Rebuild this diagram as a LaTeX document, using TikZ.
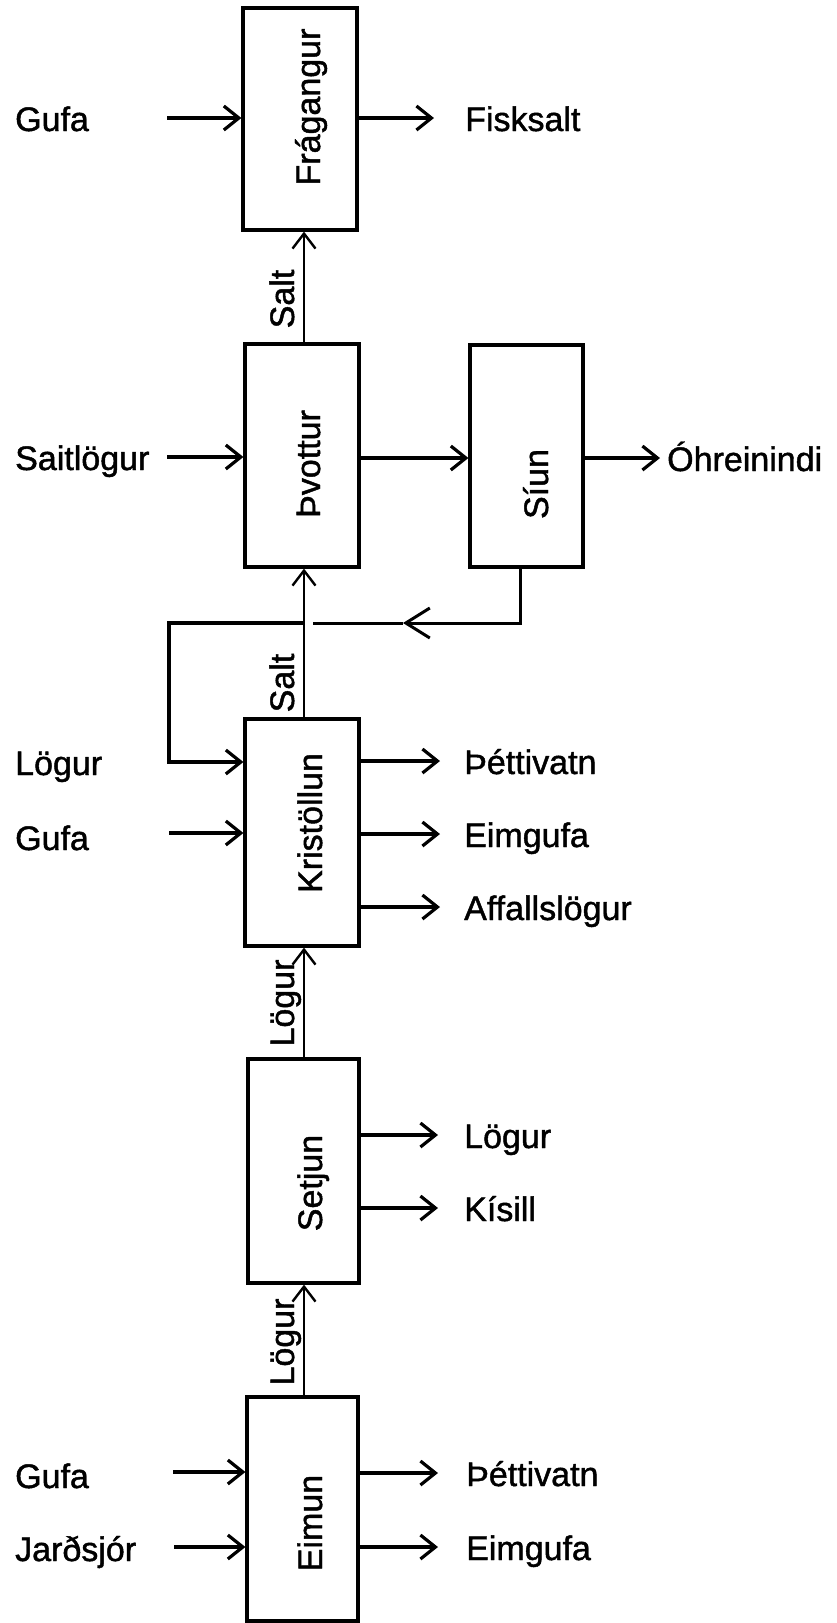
\documentclass[tikz,border=0pt]{standalone}
\usepackage{fontspec}
\setmainfont{Liberation Sans}[FakeBold=1.3]
\usetikzlibrary{arrows.meta}
\begin{document}
\begin{tikzpicture}[x=1pt,y=-1pt,
  proc/.style={draw, line width=3.2pt, inner sep=0pt},
  txt/.style={font=\fontsize{34}{37}\selectfont, inner sep=0pt},
  lbl/.style={txt, anchor=base west},
  vlbl/.style={txt, anchor=base, rotate=90},
  flow/.style={line width=3.2pt, -{Straight Barb[length=15pt,width=24pt]}},
  up/.style={line width=2.4pt, -{Straight Barb[length=15pt,width=23pt]}},
  back/.style={line width=3pt},
]
\fill[white] (0,0) rectangle (836,1623);
\useasboundingbox (0,0) rectangle (836,1623);

% process boxes
\node[proc, minimum width=114pt, minimum height=222pt] (fra) at (300,119) {};
\node[proc, minimum width=114pt, minimum height=223pt] (thv) at (302,455.5) {};
\node[proc, minimum width=113pt, minimum height=222pt] (siun) at (526.5,456) {};
\node[proc, minimum width=114pt, minimum height=227pt] (kri) at (302,832.5) {};
\node[proc, minimum width=111pt, minimum height=224pt] (set) at (303.5,1171) {};
\node[proc, minimum width=111pt, minimum height=224pt] (eim) at (302.5,1509) {};

% box labels
\node[vlbl] (fraL) at (320,107) {Frágangur};
\node[vlbl] (thvL) at (320,464) {Þvottur};
\node[vlbl] (siunL) at (548,484) {Síun};
\node[vlbl] (kriL) at (322,823) {Kristöllun};
\node[vlbl] (setL) at (322,1183) {Setjun};
\node[vlbl] (eimL) at (322,1523) {Eimun};

% spine of vertical flows
\coordinate (spine) at (304,0);
\draw[up] (thv.north -| spine) -- (fra.south -| spine);
\draw[up] (kri.north -| spine) -- (thv.south -| spine);
\draw[up] (set.north -| spine) -- (kri.south -| spine);
\draw[up] (eim.north -| spine) -- (set.south -| spine);
\node[vlbl] (salt1) at (294,299) {Salt};
\node[vlbl] (salt2) at (294,683) {Salt};
\node[vlbl] (log1) at (294,1003) {Lögur};
\node[vlbl] (log2) at (294,1342) {Lögur};

% Fragangur
\node[lbl] (gufa1) at (15,131) {Gufa};
\coordinate (gufa1s) at (167,118);
\draw[flow] (gufa1s) -- (fra.west |- gufa1s);
\node[lbl] (fisk) at (465,131) {Fisksalt};
\coordinate (fiske) at (434,118);
\draw[flow] (fra.east |- fiske) -- (fiske);

% Thvottur / Siun
\node[lbl] (salog) at (15,470) {Saitlögur};
\coordinate (salogs) at (167,457);
\draw[flow] (salogs) -- (thv.west |- salogs);
\coordinate (tsy) at (0,458);
\draw[flow] (thv.east |- tsy) -- (siun.west |- tsy);
\node[lbl] (ohr) at (667,471) {Óhreinindi};
\coordinate (ohre) at (660,458);
\draw[flow] (siun.east |- ohre) -- (ohre);

% feedback loop
\coordinate (fbx) at (520,0);
\coordinate (fbtip) at (403,623);
\coordinate (fbgap) at (313,623);
\coordinate (fbl) at (169,623);
\coordinate (kin1) at (169,762);
\draw[back, -{Straight Barb[length=24pt,width=30pt]}] (siun.south -| fbx) |- (fbtip);
\draw[back] (fbtip) -- (fbgap);
\draw[flow] (spine |- fbl) -- (fbl) -- (kin1) -- (kri.west |- kin1);

% Kristollun
\node[lbl] (login) at (15,775) {Lögur};
\node[lbl] (gufa2) at (15,850) {Gufa};
\coordinate (gufa2s) at (169,833);
\draw[flow] (gufa2s) -- (kri.west |- gufa2s);
\coordinate (ko1) at (440,761);
\coordinate (ko2) at (440,834);
\coordinate (ko3) at (440,907);
\draw[flow] (kri.east |- ko1) -- (ko1);
\draw[flow] (kri.east |- ko2) -- (ko2);
\draw[flow] (kri.east |- ko3) -- (ko3);
\node[lbl] (thet1) at (464,774) {Þéttivatn};
\node[lbl] (eimg1) at (464,847) {Eimgufa};
\node[lbl] (affl) at (464,920) {Affallslögur};

% Setjun
\coordinate (so1) at (438,1135);
\coordinate (so2) at (438,1208);
\draw[flow] (set.east |- so1) -- (so1);
\draw[flow] (set.east |- so2) -- (so2);
\node[lbl] (logout) at (464,1148) {Lögur};
\node[lbl] (kis) at (464,1221) {Kísill};

% Eimun
\node[lbl] (gufa3) at (15,1488) {Gufa};
\node[lbl] (jard) at (15,1561) {Jarðsjór};
\coordinate (gufa3s) at (173,1472);
\coordinate (jards) at (174,1547);
\draw[flow] (gufa3s) -- (eim.west |- gufa3s);
\draw[flow] (jards) -- (eim.west |- jards);
\coordinate (eo1) at (438,1473);
\coordinate (eo2) at (438,1547);
\draw[flow] (eim.east |- eo1) -- (eo1);
\draw[flow] (eim.east |- eo2) -- (eo2);
\node[lbl] (thet2) at (466,1486) {Þéttivatn};
\node[lbl] (eimg2) at (466,1560) {Eimgufa};
\end{tikzpicture}
\end{document}
